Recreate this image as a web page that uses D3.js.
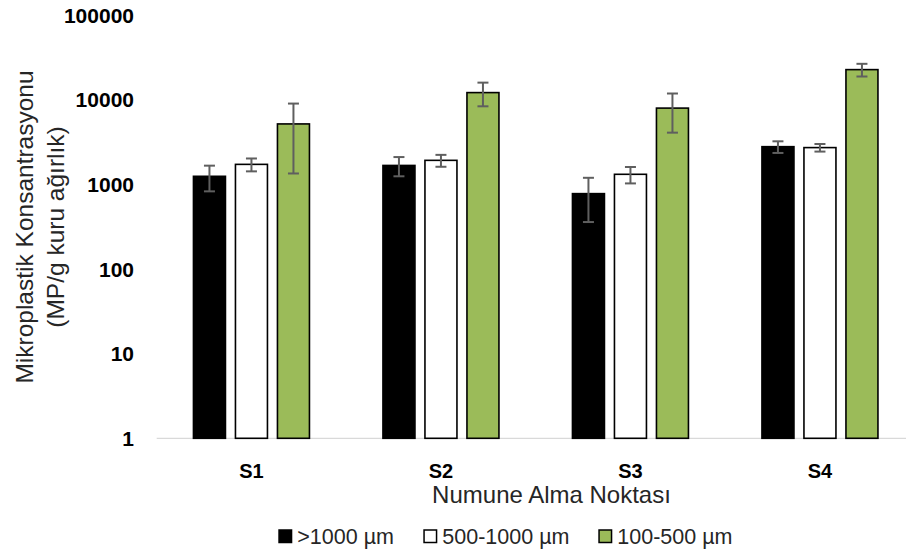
<!DOCTYPE html>
<html>
<head>
<meta charset="utf-8">
<script src="https://cdn.jsdelivr.net/npm/d3@7"></script>
<style>
  html, body { margin: 0; padding: 0; background: #fff; }
  svg { display: block; font-family: "Liberation Sans", Arial, sans-serif; }
</style>
</head>
<body>
<svg id="chart" width="906" height="551"></svg>
<script>
// Sampling points and size fractions
const categories = ["S1", "S2", "S3", "S4"];
const seriesNames = [">1000 µm", "500-1000 µm", "100-500 µm"];
const seriesColors = ["#000000", "#ffffff", "#9bbb59"];

// Mean concentration (MP/g dry weight) per fraction, one value per sampling point
const coarse = [1250, 1680, 780, 2800];      // >1000 µm
const medium = [1730, 1930, 1320, 2730];     // 500-1000 µm
const fine   = [5200, 12200, 8000, 22800];   // 100-500 µm

// Standard deviations for the error bars
const coarseErr = [420, 430, 420, 440];
const mediumErr = [300, 310, 290, 280];
const fineErr   = [3850, 3800, 3900, 3900];

const yTicks = [1, 10, 100, 1000, 10000, 100000];
const yTitleLines = ["Mikroplastik Konsantrasyonu", "(MP/g kuru ağırlık)"];
const xTitle = "Numune Alma Noktası";

const values = [coarse, medium, fine];
const errors = [coarseErr, mediumErr, fineErr];

const svg = d3.select("#chart");

const x0 = d3.scaleBand().domain(categories).range([156.7, 914.7]).padding(0);
const x1 = d3.scaleBand().domain(seriesNames).range([-58.75, 58.75]).paddingInner(8.5 / 42);
const y = d3.scaleLog().domain([1, 100000]).range([438.3, 15.3]);

// Baseline axis line
svg.append("line")
  .attr("x1", x0.range()[0]).attr("x2", x0.range()[1])
  .attr("y1", y(1)).attr("y2", y(1))
  .attr("stroke", "#d9d9d9").attr("stroke-width", 1.3);

// Y tick labels
svg.append("g").selectAll("text")
  .data(yTicks)
  .join("text")
  .attr("x", 134)
  .attr("y", d => y(d))
  .attr("dy", "0.36em")
  .attr("text-anchor", "end")
  .attr("font-size", 21)
  .attr("font-weight", "bold")
  .attr("fill", "#000")
  .text(d => d);

// Bars
const rows = [];
categories.forEach((c, i) => {
  seriesNames.forEach((s, j) => {
    rows.push({ cat: c, series: s, idx: j, v: values[j][i], e: errors[j][i] });
  });
});

const barG = svg.append("g");
barG.selectAll("rect")
  .data(rows)
  .join("rect")
  .attr("x", d => x0(d.cat) + x0.bandwidth() / 2 + x1(d.series) + 0.75)
  .attr("width", x1.bandwidth() - 1.5)
  .attr("y", d => y(d.v))
  .attr("height", d => y(1) - y(d.v))
  .attr("fill", d => seriesColors[d.idx])
  .attr("stroke", "#000")
  .attr("stroke-width", 1.6);

// Error bars
const errG = svg.append("g").attr("stroke", "#5f5f5f").attr("stroke-width", 2);
rows.forEach(d => {
  const cx = x0(d.cat) + x0.bandwidth() / 2 + x1(d.series) + x1.bandwidth() / 2;
  const yTop = y(d.v + d.e), yBot = y(d.v - d.e);
  errG.append("line").attr("x1", cx).attr("x2", cx).attr("y1", yTop).attr("y2", yBot);
  errG.append("line").attr("x1", cx - 5.5).attr("x2", cx + 5.5).attr("y1", yTop).attr("y2", yTop);
  errG.append("line").attr("x1", cx - 5.5).attr("x2", cx + 5.5).attr("y1", yBot).attr("y2", yBot);
});

// Category labels
svg.append("g").selectAll("text")
  .data(categories)
  .join("text")
  .attr("x", d => x0(d) + x0.bandwidth() / 2)
  .attr("y", 477.5)
  .attr("text-anchor", "middle")
  .attr("font-size", 20)
  .attr("font-weight", "bold")
  .attr("fill", "#000")
  .text(d => d);

// X axis title
svg.append("text")
  .attr("x", 551.5).attr("y", 503)
  .attr("text-anchor", "middle")
  .attr("font-size", 24)
  .attr("fill", "#262626")
  .text(xTitle);

// Y axis title (two lines, rotated)
const yTitle = svg.append("text")
  .attr("transform", "translate(0,227) rotate(-90)")
  .attr("text-anchor", "middle")
  .attr("font-size", 24.5)
  .attr("fill", "#262626");
yTitle.selectAll("tspan")
  .data(yTitleLines)
  .join("tspan")
  .attr("x", 0)
  .attr("y", (d, i) => 33 + i * 31)
  .text(d => d);

// Legend
const legendX = [278.3, 423.3, 598.3];
const legend = svg.append("g");
seriesNames.forEach((s, j) => {
  legend.append("rect")
    .attr("x", legendX[j] + 0.75).attr("y", 530)
    .attr("width", 12.5).attr("height", 12.5)
    .attr("fill", seriesColors[j])
    .attr("stroke", "#000").attr("stroke-width", 1.5);
  legend.append("text")
    .attr("x", legendX[j] + 19).attr("y", 543.5)
    .attr("font-size", 21.5)
    .attr("fill", "#262626")
    .text(s);
});
</script>
</body>
</html>
